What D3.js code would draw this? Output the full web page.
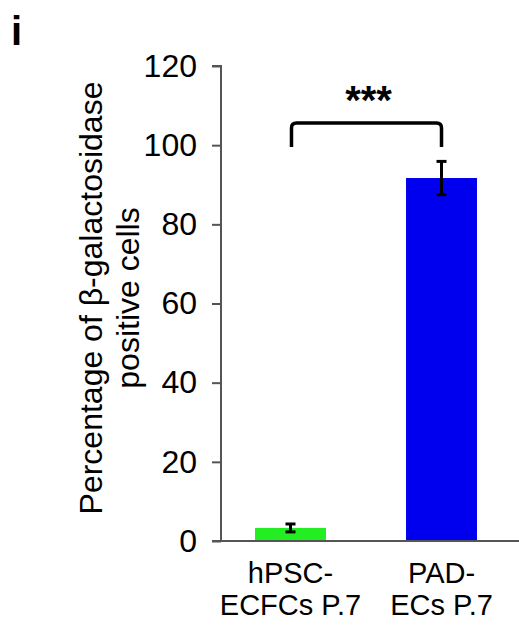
<!DOCTYPE html>
<html>
<head>
<meta charset="utf-8">
<script src="https://cdn.jsdelivr.net/npm/d3@7"></script>
<style>
  html, body { margin: 0; padding: 0; background: #fff; }
  svg { display: block; font-family: "Liberation Sans", Arial, sans-serif; }
</style>
</head>
<body>
<svg id="chart" width="519" height="634"></svg>
<script>
// Percentage of β-galactosidase positive cells at passage 7
const categories = ["hPSC-|ECFCs P.7", "PAD-|ECs P.7"];
const values = [3.3, 91.7];
const errors = [1.0, 4.2];
const barColors = ["#22ee22", "#0000ee"];
const yTicks = [0, 20, 40, 60, 80, 100, 120];

const svg = d3.select("#chart");
const axisX = 221, x0 = 212, xEnd = 519;
const y = d3.scaleLinear().domain([0, 120]).range([541, 66]);
const x = d3.scaleBand().domain(categories).range([224.8, 507.2])
  .paddingInner(0.53).paddingOuter(0.2);

// panel letter
svg.append("text").attr("x", 11).attr("y", 45)
  .attr("font-size", 40).attr("font-weight", "bold").text("i");

// bars
svg.selectAll("rect.bar").data(categories).join("rect")
  .attr("class", "bar")
  .attr("x", d => x(d))
  .attr("width", x.bandwidth())
  .attr("y", (d, i) => y(values[i]))
  .attr("height", (d, i) => y(0) - y(values[i]))
  .attr("fill", (d, i) => barColors[i]);

// error bars
const eb = svg.append("g").attr("stroke", "#000").attr("stroke-width", 3);
categories.forEach((c, i) => {
  const cx = x(c) + x.bandwidth() / 2;
  const hi = y(values[i] + errors[i]), lo = y(values[i] - errors[i]);
  eb.append("line").attr("x1", cx).attr("x2", cx).attr("y1", hi).attr("y2", lo);
  eb.append("line").attr("x1", cx - 5).attr("x2", cx + 5).attr("y1", hi).attr("y2", hi);
  eb.append("line").attr("x1", cx - 5).attr("x2", cx + 5).attr("y1", lo).attr("y2", lo);
});

// y axis
const yAxis = d3.axisLeft(y).tickValues(yTicks).tickSize(9).tickPadding(15);
const gy = svg.append("g").attr("transform", `translate(${axisX},0)`).call(yAxis);
gy.select(".domain").attr("stroke", "#555").attr("stroke-width", 2).attr("d", `M-9,${y(120)}H0V${y(0)}`);
gy.selectAll(".tick line").attr("stroke", "#555").attr("stroke-width", 2);
gy.selectAll(".tick text").attr("font-size", 32).attr("fill", "#000")
  .attr("font-family", "Liberation Sans, Arial, sans-serif");

// x baseline
svg.append("line").attr("x1", x0).attr("x2", xEnd).attr("y1", y(0)).attr("y2", y(0))
  .attr("stroke", "#555").attr("stroke-width", 2);

// category labels
categories.forEach(c => {
  const cx = x(c) + x.bandwidth() / 2;
  const lines = c.split("|");
  const t = svg.append("text").attr("text-anchor", "middle").attr("font-size", 29);
  lines.forEach((l, k) => t.append("tspan").attr("x", cx).attr("y", 583 + k * 32).text(l));
});

// y axis title
const yt = svg.append("text").attr("transform", "translate(102,298) rotate(-90)")
  .attr("text-anchor", "middle").attr("font-size", 32);
yt.append("tspan").attr("x", 0).attr("y", 0).text("Percentage of β-galactosidase");
yt.append("tspan").attr("x", 0).attr("y", 37).text("positive cells");

// significance bracket
const bx1 = x(categories[0]) + x.bandwidth() / 2 + 1;
const bx2 = x(categories[1]) + x.bandwidth() / 2;
const by = 123, bdrop = 147, r = 5;
svg.append("path")
  .attr("d", `M${bx1},${bdrop}V${by + r}Q${bx1},${by} ${bx1 + r},${by}H${bx2 - r}Q${bx2},${by} ${bx2},${by + r}V${bdrop}`)
  .attr("fill", "none").attr("stroke", "#000").attr("stroke-width", 3.5);
svg.append("text").attr("x", (bx1 + bx2) / 2 + 2).attr("y", 114)
  .attr("text-anchor", "middle").attr("font-size", 40).attr("font-weight", "bold").text("***");
</script>
</body>
</html>
